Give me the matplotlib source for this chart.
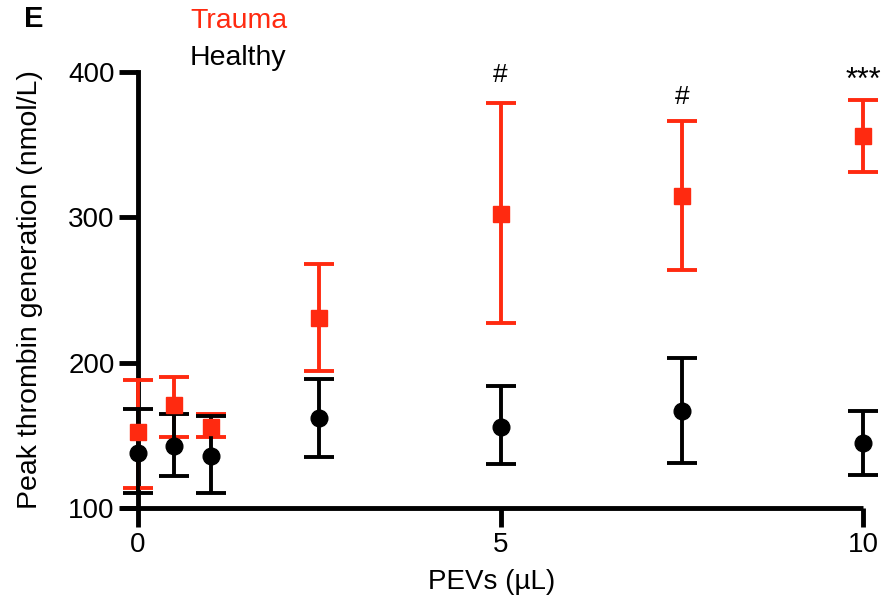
import matplotlib.pyplot as plt
import numpy as np

plt.rcParams['font.family'] = ['Liberation Sans', 'DejaVu Sans']

# PEV volumes (uL)
doses = [0, 0.5, 1, 2.5, 5, 7.5, 10]

# peak thrombin generation (nmol/L): mean, upper and lower error limits
trauma_mean = [152, 171, 156, 231, 302, 315, 356]
trauma_hi = [188, 190, 165, 268, 379, 366, 381]
trauma_lo = [114, 149, 149, 194, 227, 264, 331]

healthy_mean = [138, 143, 136, 162, 156, 167, 145]
healthy_hi = [168, 165, 163, 189, 184, 203, 167]
healthy_lo = [110, 122, 110, 135, 130, 131, 123]

sig_x = [5, 7.5, 10]
sig_txt = ['#', '#', '***']
sig_y = [398, 383, 394]

red = '#ff2a10'

fig = plt.figure(figsize=(8.89, 6.04), dpi=100)
ax = fig.add_axes([120 / 889, 1 - 508 / 604, (863 - 120) / 889, (508 - 72) / 604])


def draw(mean, lo, hi, color, marker, ms):
    mean = np.array(mean)
    err = [mean - np.array(lo), np.array(hi) - mean]
    ax.errorbar(doses, mean, yerr=err, fmt=marker, color=color, ms=ms,
                elinewidth=2.8, capsize=11, capthick=2.8, clip_on=False, zorder=3)


draw(trauma_mean, trauma_lo, trauma_hi, red, 's', 12)
draw(healthy_mean, healthy_lo, healthy_hi, 'black', 'o', 12)

for x, t, y in zip(sig_x, sig_txt, sig_y):
    ax.text(x, y, t, ha='center', va='center', fontsize=19 if t == '#' else 22,
            clip_on=False)

ax.set_xlim(-0.25, 10)
ax.set_ylim(100, 400)
ax.set_xticks([0, 5, 10])
ax.set_yticks([100, 200, 300, 400])

for s in ['top', 'right']:
    ax.spines[s].set_visible(False)
ax.spines['left'].set_position(('data', 0))
ax.spines['left'].set_linewidth(3.5)
ax.spines['bottom'].set_linewidth(3.5)
ax.spines['bottom'].set_capstyle('butt')
ax.tick_params(direction='out', length=14, width=3.5, labelsize=20, pad=3)

ax.set_xlabel('PEVs (µL)', fontsize=20, labelpad=8)
fig.text(30 / 889, 1 - 290 / 604, 'Peak thrombin generation (nmol/L)', rotation=90,
         ha='center', va='center', fontsize=20.5)

fig.text(24 / 889, 1 - 19 / 604, 'E', fontsize=21, fontweight='bold', va='center')
fig.text(190 / 889, 1 - 21 / 604, 'Trauma', color=red, fontsize=20.5, va='center')
fig.text(190 / 889, 1 - 58 / 604, 'Healthy', color='black', fontsize=20.5, va='center')

fig.savefig('out.png', dpi=100)
